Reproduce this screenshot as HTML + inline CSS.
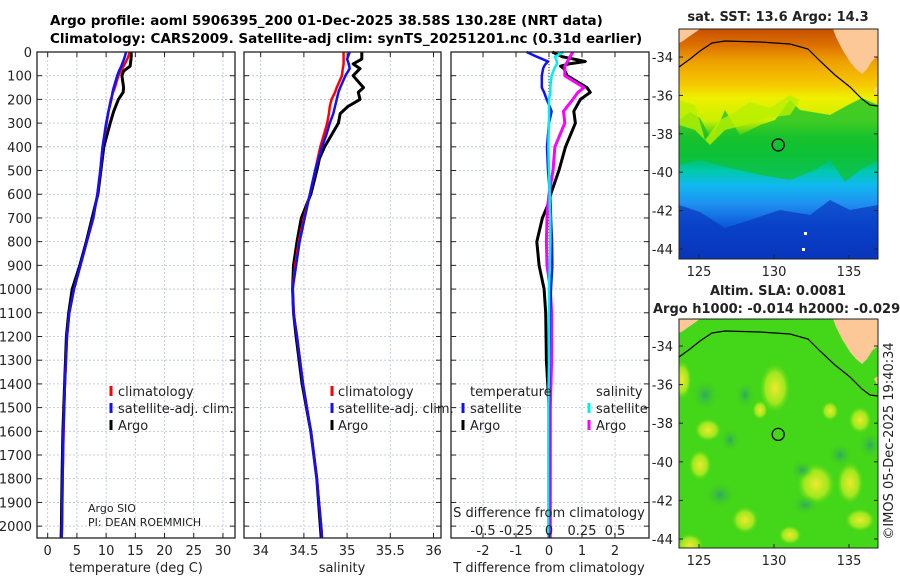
<!DOCTYPE html>
<html><head><meta charset="utf-8">
<style>
body{margin:0;background:#fff;}
svg{display:block;font-family:"DejaVu Sans","Liberation Sans",sans-serif;}
</style></head>
<body>
<svg id="fig" width="900" height="580" viewBox="0 0 900 580" xmlns="http://www.w3.org/2000/svg">
<rect width="900" height="580" fill="#fff"/>
<g font-weight="bold" font-size="13.5">
<text x="50" y="25">Argo profile: aoml 5906395_200 01-Dec-2025 38.58S 130.28E (NRT data)</text>
<text x="50" y="43">Climatology: CARS2009. Satellite-adj clim: synTS_20251201.nc (0.31d earlier)</text>
</g>
<g id="panels"></g>
<g id="maps"></g>
</svg>
<script>
// ---- profile data ----
const depthT = [0,20,40,60,80,100,150,170,200,250,300,400,500,600,700,800,900,1000,1100,1200,1400,1600,1800,2000,2050];
const argoT = [14.3,14.3,14.2,14.1,13.0,12.7,13.0,12.9,12.1,11.3,10.7,9.6,9.1,8.6,7.6,6.6,5.5,4.2,3.6,3.2,2.9,2.6,2.45,2.35,2.3];
const climT = [14.0,13.8,13.4,13.0,12.5,12.1,11.5,11.2,10.8,10.4,10.1,9.4,9.0,8.5,7.8,6.7,5.6,4.5,3.7,3.3,2.95,2.7,2.55,2.45,2.4];
const satT  = [13.4,13.2,12.9,12.6,12.2,11.9,11.3,11.1,10.9,10.4,10.0,9.4,9.0,8.5,7.8,6.7,5.6,4.5,3.7,3.3,2.95,2.7,2.55,2.45,2.4];
const depthS = [0,30,50,70,100,150,170,200,230,260,300,350,400,450,500,600,700,800,900,1000,1100,1200,1400,1600,1800,2000,2050];
const argoS = [35.17,35.17,35.07,35.15,35.07,35.19,35.13,35.15,35.01,34.92,34.90,34.82,34.74,34.68,34.65,34.58,34.47,34.42,34.38,34.37,34.38,34.41,34.48,34.58,34.65,34.69,34.70];
const climS = [34.96,34.96,34.96,34.95,34.94,34.88,34.86,34.82,34.80,34.79,34.77,34.73,34.69,34.66,34.63,34.57,34.50,34.44,34.40,34.37,34.38,34.42,34.49,34.58,34.65,34.70,34.71];
const satS  = [35.03,35.00,35.02,35.03,34.98,34.92,34.90,34.88,34.86,34.84,34.80,34.76,34.71,34.67,34.63,34.57,34.51,34.45,34.41,34.37,34.38,34.42,34.49,34.58,34.65,34.70,34.71];
const depthD = [0,20,40,50,60,70,100,150,170,200,250,300,400,500,600,650,700,800,900,1000,1100,1300,1500,2050];
const argoDT = [0.1,0.4,1.1,0.6,0.35,0.45,0.55,1.15,1.25,0.95,0.75,0.8,0.5,0.3,0.05,-0.05,-0.2,-0.37,-0.3,-0.15,-0.1,-0.08,0,0];
const satDT  = [-0.68,-0.37,-0.03,-0.1,-0.15,-0.18,-0.22,-0.22,-0.15,-0.07,0.08,0,-0.06,-0.03,0.03,0.05,0.06,0.09,0.1,0.06,0.03,0.01,0,0];
const argoDS = [0.18,0.16,0.14,0.13,0.12,0.12,0.12,0.265,0.22,0.18,0.11,0.12,0.045,0.03,0.0,-0.01,-0.015,-0.02,-0.015,0.01,0.02,0.02,0.01,0.01];
const satDS  = [0.11,0.045,0.06,0.06,0.05,0.04,0.02,0.01,0.01,0,0,0,-0.005,0,0.005,0.005,0.01,0.01,0.005,0,0,0,-0.005,-0.005];
const depthTicks = [0,100,200,300,400,500,600,700,800,900,1000,1100,1200,1300,1400,1500,1600,1700,1800,1900,2000];
const tTicks = [0,5,10,15,20,25,30];
const sTicks = [34,34.5,35,35.5,36];
const sTickLabels = ["34","34.5","35","35.5","36"];
const dTTicks = [-2,-1,0,1,2];
const dSTicks = [-0.5,-0.25,0,0.25,0.5];
const dSTickLabels = ["-0.5","-0.25","0","0.25","0.5"];

const NS="http://www.w3.org/2000/svg";
function mk(tag,attrs,parent){const e=document.createElementNS(NS,tag);for(const k in attrs)e.setAttribute(k,attrs[k]);if(parent)parent.appendChild(e);return e;}
const Y0=52,Y1=538,DMAX=2050;
const yD=d=>Y0+(Y1-Y0)*d/DMAX;
const panels=document.getElementById('panels');

function panel(name,x0,x1,xmin,xmax){
  const g=mk('g',{},panels);
  
  
  const sx=v=>x0+(x1-x0)*(v-xmin)/(xmax-xmin);
  return {g,sx,x0,x1};
}
function grid(p,xt){
  const gg=mk('g',{stroke:"#b8bfe6","stroke-width":"0.8","stroke-dasharray":"2,2"},p.g);
  
  
  depthTicks.forEach(d=>{mk('line',{x1:p.x0,x2:p.x1,y1:yD(d),y2:yD(d)},gg);});
  xt.forEach(v=>{mk('line',{x1:p.sx(v),x2:p.sx(v),y1:Y0,y2:Y1},gg);});
}
function frame(p,xt){
  const fg=mk('g',{stroke:"#222","stroke-width":"1"},p.g);
  
  
  mk('rect',{x:p.x0,y:Y0,width:p.x1-p.x0,height:Y1-Y0,fill:"none","stroke-width":"1.3"},fg);
  depthTicks.forEach(d=>{const y=yD(d);mk('line',{x1:p.x0,x2:p.x0+5,y1:y,y2:y},fg);mk('line',{x1:p.x1-5,x2:p.x1,y1:y,y2:y},fg);});
  xt.forEach(v=>{const x=p.sx(v);mk('line',{x1:x,x2:x,y1:Y1,y2:Y1-5},fg);mk('line',{x1:x,x2:x,y1:Y0,y2:Y0+5},fg);});
}
function line(p,vals,depths,color,w,name,sx){
  const f=sx||p.sx;
  const pts=vals.map((v,i)=>f(v).toFixed(1)+","+yD(depths[i]).toFixed(1)).join(" ");
  const l=mk('polyline',{points:pts,fill:"none",stroke:color,"stroke-width":w,"stroke-linejoin":"round"},p.g);
  
  
}
function text(parent,x,y,s,attrs,name){
  const t=mk('text',Object.assign({x:x,y:y,"font-size":"13",fill:"#222"},attrs||{}),parent);
  t.textContent=s;
  
  
  return t;
}
function xLabels(p,vals,labels,y,sx,name){
  const f=sx||p.sx;
  vals.forEach((v,i)=>text(p.g,f(v),y,labels?labels[i]:String(v),{"text-anchor":"middle"},name));
}
function legendMark(p,x,y,color){
  const l=mk('line',{x1:x,x2:x,y1:y-11,y2:y-1,stroke:color,"stroke-width":"3"},p.g);
  
  
}

// Panel 1 temperature
const p1=panel('temperature-panel',37,235,-1.83,32.06);
grid(p1,tTicks);
line(p1,argoT,depthT,"#000","3","argo-temperature-line");
line(p1,climT,depthT,"#f00","2.5","climatology-temperature-line");
line(p1,satT,depthT,"#1010ff","2.5","satellite-temperature-line");
frame(p1,tTicks);
depthTicks.forEach(d=>text(p1.g,32,yD(d)+5,String(d),{"text-anchor":"end"},'depth-tick-label'));
xLabels(p1,tTicks,null,555,null,'temperature-tick-label');
text(p1.g,136,572,"temperature (deg C)",{"text-anchor":"middle"},'x-axis-title-temperature');
legendMark(p1,111,397,"#f00");text(p1.g,118,396,"climatology",{},'legend-climatology');
legendMark(p1,111,414,"#1010ff");text(p1.g,118,413,"satellite-adj. clim.",{},'legend-satellite');
legendMark(p1,111,431,"#000");text(p1.g,118,430,"Argo",{},'legend-argo');
text(p1.g,88,512,"Argo SIO",{"font-size":"11"},'argo-center-label');
text(p1.g,88,526,"PI: DEAN ROEMMICH",{"font-size":"11"},'pi-label');

// Panel 2 salinity
const p2=panel('salinity-panel',244,441,33.807,36.087);
grid(p2,sTicks);
line(p2,argoS,depthS,"#000","3","argo-salinity-line");
line(p2,climS,depthS,"#f00","2.5","climatology-salinity-line");
line(p2,satS,depthS,"#1010ff","2.5","satellite-salinity-line");
frame(p2,sTicks);
xLabels(p2,sTicks,sTickLabels,555,null,'salinity-tick-label');
text(p2.g,342,572,"salinity",{"text-anchor":"middle"},'x-axis-title-salinity');
legendMark(p2,332,397,"#f00");text(p2.g,338,396,"climatology",{},'legend-climatology');
legendMark(p2,332,414,"#1010ff");text(p2.g,338,413,"satellite-adj. clim.",{},'legend-satellite');
legendMark(p2,332,431,"#000");text(p2.g,338,430,"Argo",{},'legend-argo');

// Panel 3 differences
const p3=panel('difference-panel',451,649,-2.97,3.03);
const sxS=v=>549+132*v;
grid(p3,dTTicks);
const zl=mk('line',{x1:549,x2:549,y1:Y0,y2:Y1,stroke:"#333","stroke-width":"1","stroke-dasharray":"1,2"},p3.g);


line(p3,argoDT,depthD,"#000","3","argo-temperature-diff-line");
line(p3,argoDS,depthD,"#ff00ff","3","argo-salinity-diff-line",sxS);
line(p3,satDT,depthD,"#1010ff","2.5","satellite-temperature-diff-line");
line(p3,satDS,depthD,"#00f0f0","2.5","satellite-salinity-diff-line",sxS);
frame(p3,dTTicks);
xLabels(p3,dTTicks,null,555,null,'t-diff-tick-label');
text(p3.g,549,572,"T difference from climatology",{"text-anchor":"middle"},'x-axis-title-t-diff');
text(p3.g,549,517,"S difference from climatology",{"text-anchor":"middle"},'x-axis-title-s-diff');
xLabels(p3,dSTicks,dSTickLabels,535,sxS,'s-diff-tick-label');
text(p3.g,470,396,"temperature",{},'legend-temperature-header');
text(p3.g,596,396,"salinity",{},'legend-salinity-header');
legendMark(p3,463,414,"#1010ff");text(p3.g,470,413,"satellite",{},'legend-t-satellite');
legendMark(p3,463,431,"#000");text(p3.g,470,430,"Argo",{},'legend-t-argo');
legendMark(p3,589,414,"#00f0f0");text(p3.g,596,413,"satellite",{},'legend-s-satellite');
legendMark(p3,589,431,"#ff00ff");text(p3.g,596,430,"Argo",{},'legend-s-argo');

// ---- maps ----
const maps=document.getElementById('maps');
const latTicks=[-34,-36,-38,-40,-42,-44];
const lonTicks=[125,130,135];
function mapPanel(name,top,bot,latTopY,lat44Y,kind){
  const g=mk('g',{},maps);
  
  
  const X0=679,X1=878;
  const lx=lon=>699+(lon-125)*15;
  const ly=lat=>latTopY+(lat+34)/(-10)*(lat44Y-latTopY);
  const cid=name+'-clip';
  const cp=mk('clipPath',{id:cid},g);mk('rect',{x:X0,y:top,width:X1-X0,height:bot-top},cp);
  const inner=mk('g',{"clip-path":"url(#"+cid+")"},g);
  const defs=mk('defs',{},g);
  if(kind==='sst'){
    const lg=mk('linearGradient',{id:'sstg',x1:0,y1:0,x2:0,y2:1},defs);
    [[0,"#c85000"],[0.07,"#dc7000"],[0.14,"#eda000"],[0.24,"#f6c800"],[0.3,"#eef000"],[0.4,"#c8f000"],[0.47,"#30c820"],[0.55,"#00c050"],[0.62,"#00c8b0"],[0.68,"#10b8f0"],[0.76,"#2090f0"],[0.86,"#0a58d8"],[1,"#0830b0"]].forEach(s=>mk('stop',{offset:s[0],"stop-color":s[1]},lg));
    mk('rect',{x:X0,y:top,width:X1-X0,height:bot-top,fill:"url(#sstg)"},inner);
    mk('polygon',{points:"679,120 690,112 700,118 712,140 725,110 740,135 760,125 775,120 790,100 800,110 812,112 830,115 848,105 862,98 878,105 878,160 860,170 845,182 830,160 815,170 790,180 760,175 730,168 700,160 679,165",fill:"#10c030",opacity:"0.75"},inner);
    mk('polygon',{points:"679,100 695,105 705,140 720,120 735,112 750,102 770,108 790,95 800,100 790,115 765,118 745,125 725,130 710,145 695,130 679,125",fill:"#b8f000",opacity:"0.8"},inner);
    mk('polygon',{points:"679,205 700,212 725,228 750,220 780,210 810,215 830,200 850,210 878,205 878,259 679,259",fill:"#0838c0",opacity:"0.7"},inner);
    mk('rect',{x:804,y:232,width:3,height:3,fill:"#fff"},inner);
    mk('rect',{x:802,y:248,width:3,height:3,fill:"#fff"},inner);
  } else {
    mk('rect',{x:X0,y:top,width:X1-X0,height:bot-top,fill:"#44d618"},inner);
    const rg=mk('radialGradient',{id:'yb'},defs);
    mk('stop',{offset:0,"stop-color":"#f0e830"},rg);mk('stop',{offset:0.6,"stop-color":"#c8f020","stop-opacity":"0.7"},rg);mk('stop',{offset:1,"stop-color":"#44d618","stop-opacity":"0"},rg);
    const rb=mk('radialGradient',{id:'gb'},defs);
    mk('stop',{offset:0,"stop-color":"#30a860"},rb);mk('stop',{offset:1,"stop-color":"#44d618","stop-opacity":"0"},rb);
    [[775,388,16,26],[816,484,20,22],[850,483,14,22],[682,380,10,20],[760,410,8,10],[708,430,14,12],[700,465,12,16],[830,411,9,10],[860,420,12,14],[690,545,14,12],[745,520,14,14],[860,520,16,12],[790,535,12,10]].forEach(b=>{mk('ellipse',{cx:b[0],cy:b[1],rx:b[2],ry:b[3],fill:"url(#yb)"},inner);});
    [[705,395,14,16],[745,395,10,14],[720,495,16,14],[802,470,12,10],[840,455,12,12],[870,445,12,14],[730,440,10,12],[805,505,14,10]].forEach(b=>{mk('ellipse',{cx:b[0],cy:b[1],rx:b[2],ry:b[3],fill:"url(#gb)"},inner);});
  }
  const o=top;
  const land=mk('polygon',{points:`833,${o} 836,${o+8} 842,${o+20} 850,${o+33} 856,${o+40} 862,${o+45} 867,${o+40} 872,${o+32} 878,${o+27} 878,${o} `,fill:"#fcc898"},inner);
  
  
  mk('polygon',{points:`679,${o} 700,${o} 690,${o+7} 683,${o+12} 679,${o+14}`,fill:"#fcc898"},inner);
  mk('polygon',{points:`874,${o+60} 878,${o+57} 878,${o+67}`,fill:"#fcc898"},inner);
  const cst=mk('polyline',{points:`679,${o+38} 690,${o+30} 700,${o+22} 712,${o+14} 725,${o+12} 760,${o+13} 790,${o+15} 808,${o+20} 820,${o+32} 835,${o+46} 850,${o+58} 862,${o+70} 870,${o+76} 878,${o+77}`,fill:"none",stroke:"#000","stroke-width":"1.2"},inner);
  
  
  const mc=mk('circle',{cx:lx(130.28),cy:ly(-38.58),r:6,fill:"none",stroke:"#000","stroke-width":"1.3"},inner);
  
  
  mk('rect',{x:X0,y:top,width:X1-X0,height:bot-top,fill:"none",stroke:"#222","stroke-width":"1"},g);
  latTicks.forEach(l=>{const y=ly(l);mk('line',{x1:X0,x2:X0+4,y1:y,y2:y,stroke:"#222"},g);mk('line',{x1:X1-4,x2:X1,y1:y,y2:y,stroke:"#222"},g);text(g,673,y+5,String(l),{"text-anchor":"end"},'lat-tick-label');});
  lonTicks.forEach(l=>{const x=lx(l);mk('line',{x1:x,x2:x,y1:bot,y2:bot-4,stroke:"#222"},g);text(g,x,bot+17,String(l),{"text-anchor":"middle"},'lon-tick-label');});
  return g;
}
const m1=mapPanel('sst-map',29,259,57,249,'sst');
text(m1,778,21,"sat. SST: 13.6 Argo: 14.3",{"text-anchor":"middle","font-weight":"bold"},'sst-map-title');
const m2=mapPanel('sla-map',319,548,346,539,'sla');
text(m2,778,295,"Altim. SLA: 0.0081",{"text-anchor":"middle","font-weight":"bold"},'sla-map-title');
text(m2,653,313,"Argo h1000: -0.014 h2000: -0.029",{"font-weight":"bold"},'sla-map-subtitle');
text(m2,0,0,"©IMOS 05-Dec-2025 19:40:34",{"text-anchor":"middle",transform:"translate(893,441) rotate(-90)"},'copyright-label');
</script>
</body></html>
